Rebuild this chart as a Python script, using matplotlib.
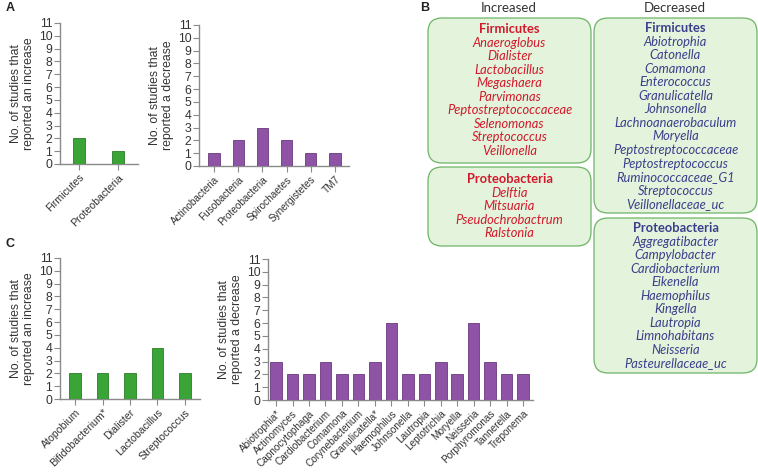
import numpy as np
import matplotlib
matplotlib.use('Agg')
import matplotlib.pyplot as plt
from matplotlib.patches import FancyBboxPatch

# --- data ---
a_inc_names = ['Firmicutes', 'Proteobacteria']
a_inc_vals = [2, 1]
a_dec_names = ['Actinobacteria', 'Fusobacteria', 'Proteobacteria', 'Spirochaetes', 'Synergistetes', 'TM7']
a_dec_vals = [1, 2, 3, 2, 1, 1]

c_inc_names = ['Atopobium', 'Bifidobacterium*', 'Dialister', 'Lactobacillus', 'Streptococcus']
c_inc_vals = [2, 2, 2, 4, 2]
c_dec_names = ['Abiotrophia*', 'Actinomyces', 'Capnocytophaga', 'Cardiobacterium', 'Comamona',
               'Corynebacterium', 'Granulicatella*', 'Haemophilus', 'Johnsonella', 'Lautropia',
               'Leptotrichia', 'Moryella', 'Neisseria', 'Porphyromonas', 'Tannerella', 'Treponema']
c_dec_vals = [3, 2, 2, 3, 2, 2, 3, 6, 2, 2, 3, 2, 6, 3, 2, 2]

inc_firm = ['Anaeroglobus', 'Dialister', 'Lactobacillus', 'Megashaera', 'Parvimonas',
            'Peptostreptococcaceae', 'Selenomonas', 'Streptococcus', 'Veillonella']
inc_proteo = ['Delftia', 'Mitsuaria', 'Pseudochrobactrum', 'Ralstonia']
dec_firm = ['Abiotrophia', 'Catonella', 'Comamona', 'Enterococcus', 'Granulicatella', 'Johnsonella',
            'Lachnoanaerobaculum', 'Moryella', 'Peptostreptococcaceae', 'Peptostreptococcus',
            'Ruminococcaceae_G1', 'Streptococcus', 'Veillonellaceae_uc']
dec_proteo = ['Aggregatibacter', 'Campylobacter', 'Cardiobacterium', 'Eikenella', 'Haemophilus',
              'Kingella', 'Lautropia', 'Limnohabitans', 'Neisseria', 'Pasteurellaceae_uc']

W, H = 758, 473
GREEN = '#3ba436'
GREEN_EDGE = '#2b7d28'
PURPLE = '#8e53a4'
PURPLE_EDGE = '#6a3a80'
AXC = '#8a8a8a'
TXT = '#333333'
BOXFONT = ['Lato', 'DejaVu Sans']

plt.rcParams['font.family'] = ['Liberation Sans', 'DejaVu Sans']

fig = plt.figure(figsize=(W / 100, H / 100), dpi=100)


def px_axes(l, t, r, b):
    return fig.add_axes([l / W, 1 - b / H, (r - l) / W, (b - t) / H])


def bar_panel(box, names, vals, color, edge, width, xlim, ylabel, xfs):
    ax = px_axes(*box)
    x = np.arange(len(names))
    ax.bar(x, vals, width=width, color=color, edgecolor=edge, linewidth=0.6, zorder=3)
    ax.set_xlim(*xlim)
    ax.set_ylim(0, 11)
    ax.set_yticks(range(0, 12))
    ax.set_xticks(x)
    ax.set_xticklabels(names, rotation=45, ha='right', rotation_mode='anchor',
                       fontsize=xfs, color=TXT)
    ax.tick_params(axis='y', labelsize=8.8, labelcolor=TXT, color=AXC, length=4, width=0.8, pad=1.5)
    ax.tick_params(axis='x', color=AXC, length=4, width=0.8, pad=2)
    for s in ['top', 'right']:
        ax.spines[s].set_visible(False)
    for s in ['left', 'bottom']:
        ax.spines[s].set_color(AXC)
        ax.spines[s].set_linewidth(1.0)
    ax.set_ylabel(ylabel, fontsize=8.8, color=TXT, linespacing=1.05, labelpad=3)
    ax.patch.set_alpha(0)
    return ax


lab_inc = 'No. of studies that\nreported an increase'
lab_dec = 'No. of studies that\nreported a decrease'

bar_panel((60, 23, 138, 164), a_inc_names, a_inc_vals, GREEN, GREEN_EDGE, 0.3,
          (-0.49, 1.51), lab_inc, 7.6)
bar_panel((199, 25, 349, 166), a_dec_names, a_dec_vals, PURPLE, PURPLE_EDGE, 0.47,
          (-0.62, 5.58), lab_dec, 7.2)
bar_panel((60, 258, 200, 399), c_inc_names, c_inc_vals, GREEN, GREEN_EDGE, 0.42,
          (-0.55, 4.55), lab_inc, 7.6)
bar_panel((268, 259, 533, 400), c_dec_names, c_dec_vals, PURPLE, PURPLE_EDGE, 0.7,
          (-0.49, 15.6), lab_dec, 7.2)

# --- panel B and letters on an overlay in pixel coordinates ---
ov = fig.add_axes([0, 0, 1, 1], zorder=-1)
ov.set_xlim(0, W)
ov.set_ylim(H, 0)
ov.axis('off')

for letter, (lx, ly) in zip('ABC', [(6, 8), (420, 8), (6, 244)]):
    ov.text(lx, ly, letter, fontsize=9, fontweight='bold', color='#222222', ha='left', va='center')

ov.text(509, 8, 'Increased', fontsize=9.5, color=TXT, ha='center', va='center', family=BOXFONT)
ov.text(675, 8, 'Decreased', fontsize=9.5, color=TXT, ha='center', va='center', family=BOXFONT)

RED = '#d21a2c'
NAVY = '#3b3f8c'
STEP = 13.55


def group_box(x0, y0, x1, y1, header, items, color, ytop):
    box = FancyBboxPatch((x0, y0), x1 - x0, y1 - y0, boxstyle='round,pad=0,rounding_size=14',
                         facecolor='#e3f3dc', edgecolor='#6db466', linewidth=0.9)
    ov.add_patch(box)
    cx = (x0 + x1) / 2
    ov.text(cx, ytop, header, fontsize=9.3, fontweight='bold', color=color, ha='center', va='center',
            family=BOXFONT)
    for i, name in enumerate(items):
        ov.text(cx, ytop + STEP * (i + 1), name, fontsize=9.3, style='italic', color=color,
                ha='center', va='center', family=BOXFONT)


group_box(428, 18, 591, 163, 'Firmicutes', inc_firm, RED, 29)
group_box(428, 167, 591, 246, 'Proteobacteria', inc_proteo, RED, 179)
group_box(594, 18, 757, 213, 'Firmicutes', dec_firm, NAVY, 28)
group_box(594, 218, 757, 373, 'Proteobacteria', dec_proteo, NAVY, 228)

fig.savefig('out.png', dpi=100)
